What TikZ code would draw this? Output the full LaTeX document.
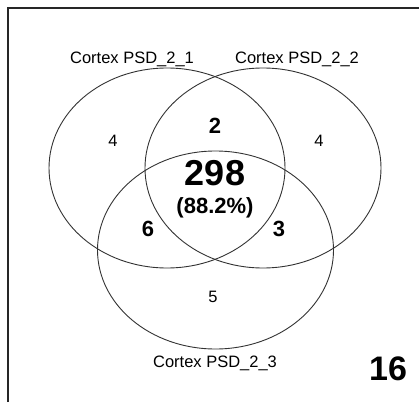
\documentclass[tikz,border=0pt]{standalone}
\usepackage{fontspec}
\setmainfont{Liberation Sans}
\usetikzlibrary{shapes.geometric}
\begin{document}
\begin{tikzpicture}[x=1pt,y=1pt,
  venn/.style={draw=black!80,line width=0.9pt,ellipse,minimum width=236pt,minimum height=200pt,inner sep=0pt},
  txt/.style={inner sep=0pt,text height=0.72em,text depth=0pt},
  lbl/.style={txt,font=\fontsize{16.5}{18}\selectfont},
  small/.style={txt,font=\fontsize{16.5}{18}\selectfont},
  mid/.style={txt,font=\fontsize{22}{24}\selectfont\bfseries},
  big/.style={txt,font=\fontsize{36}{38}\selectfont\bfseries}]
\useasboundingbox (0,0) rectangle (419,402);
\coordinate (fa) at (8,0);
\coordinate (fb) at (8,394);
\coordinate (fc) at (419,394);
\draw[line width=2pt,black!85] (fa) -- (fb) -- (fc);
\node[venn] (A) at (167,234) {};
\node[venn] (B) at (263,234) {};
\node[venn,minimum height=198pt] (C) at (215.5,152) {};
\node[lbl] (l1) at (132,342) {Cortex PSD\_2\_1};
\node[lbl] (l2) at (297,342) {Cortex PSD\_2\_2};
\node[lbl] (l3) at (215,38) {Cortex PSD\_2\_3};
\node[small] (n4a) at (113,259) {4};
\node[small] (n4b) at (319,259) {4};
\node[small] (n5) at (213,103) {5};
\node[mid] (n2) at (215,272) {2};
\node[mid] (n6) at (148,169) {6};
\node[mid] (n3) at (279,169) {3};
\node[big] (n298) at (215,220) {298};
\node[mid] (pct) at (215,192) {(88.2\%)};
\node[big,font=\fontsize{34}{36}\selectfont\bfseries] (n16) at (388,25) {16};
\end{tikzpicture}
\end{document}
